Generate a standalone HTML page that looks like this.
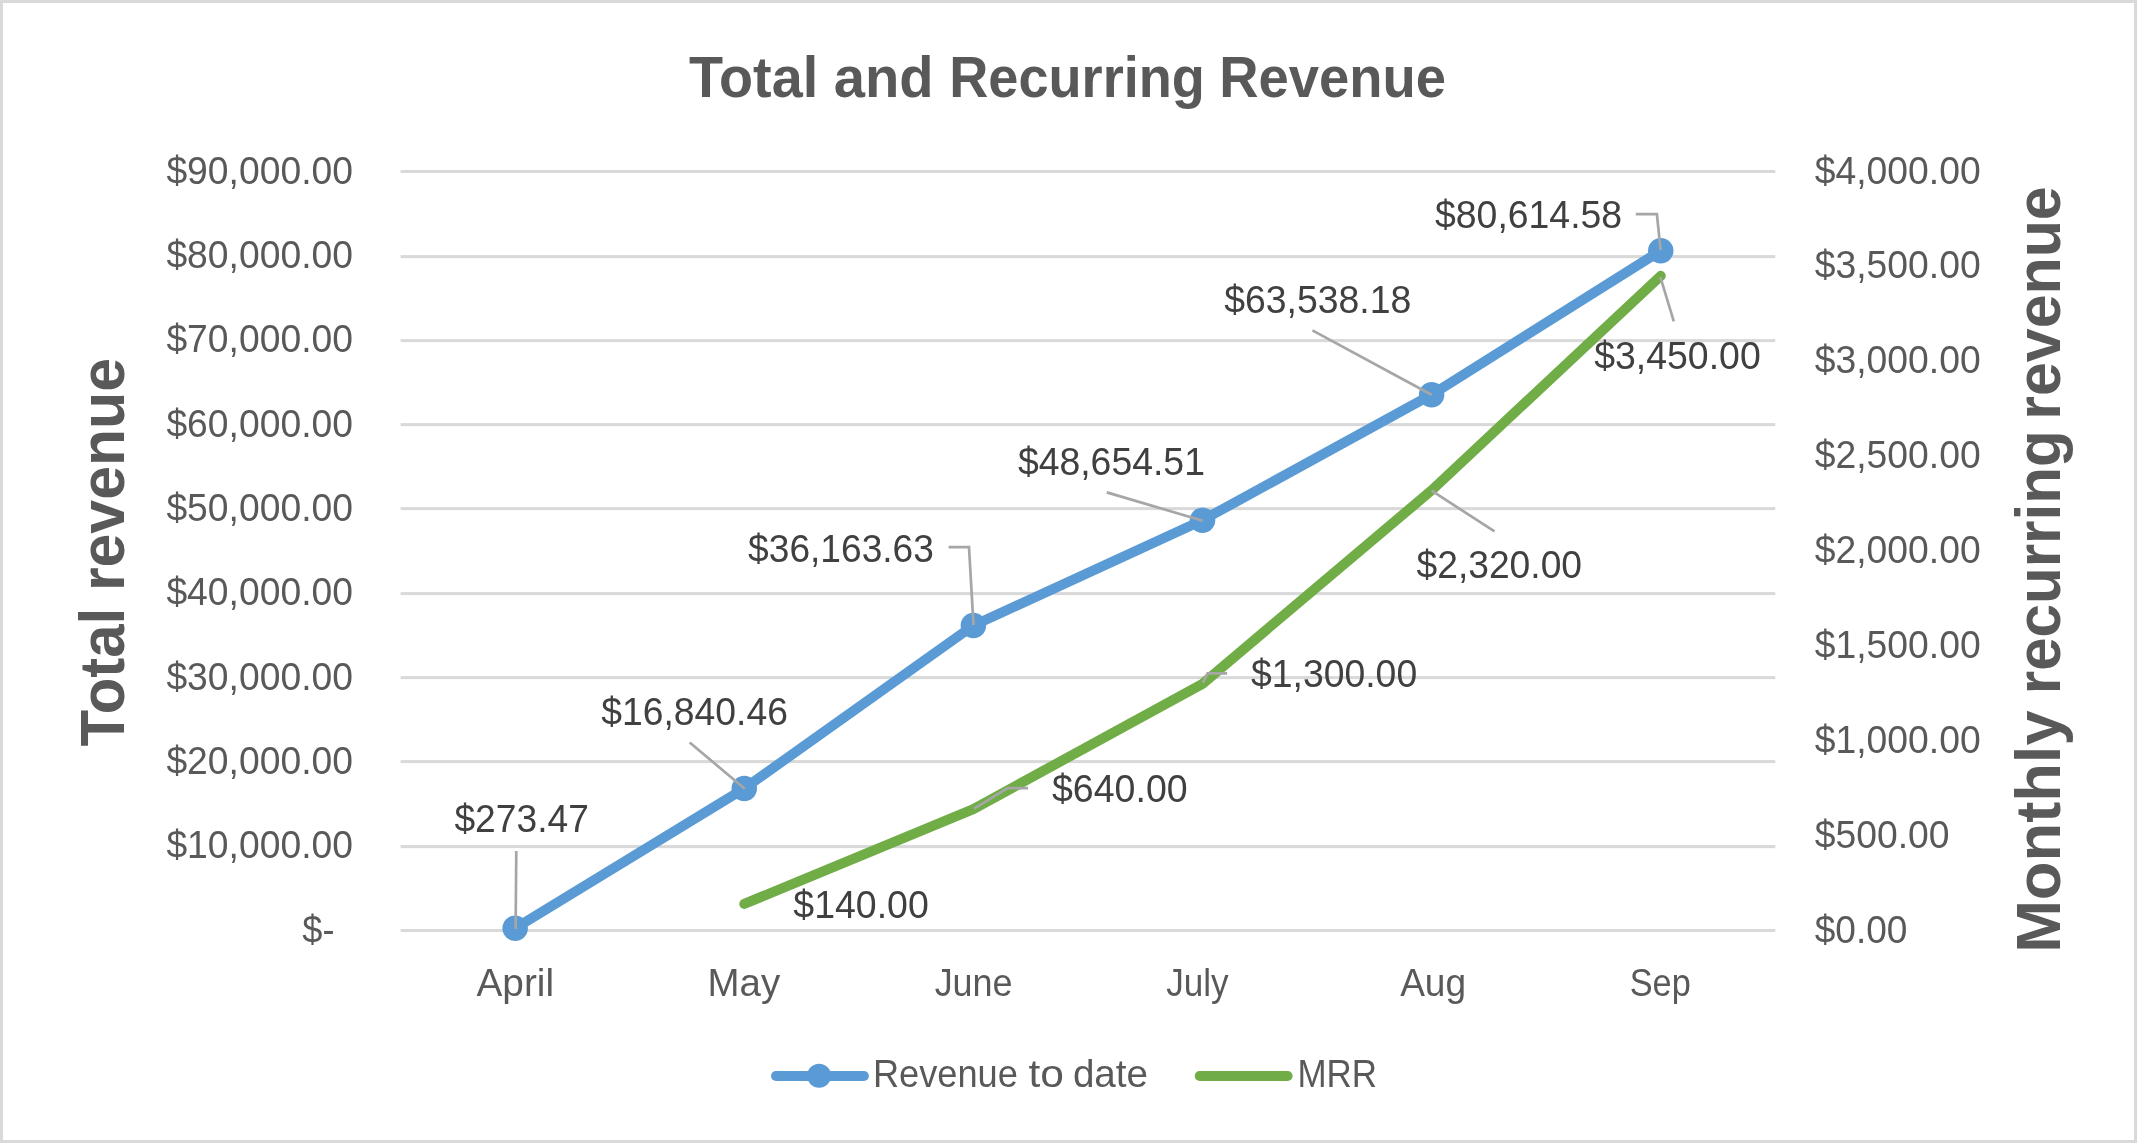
<!DOCTYPE html>
<html><head><meta charset="utf-8"><title>Total and Recurring Revenue</title>
<style>
html,body{margin:0;padding:0;background:#fff;}
body{width:2137px;height:1143px;overflow:hidden;position:relative;}
#frame{position:absolute;left:0;top:0;width:2137px;height:1143px;box-sizing:border-box;border:3px solid #D9D9D9;background:#fff;}
svg{position:absolute;left:0;top:0;will-change:transform;}
text{font-family:"Liberation Sans",sans-serif;}
</style></head><body>
<div id="frame"></div>
<svg width="2137" height="1143" viewBox="0 0 2137 1143">
<rect x="400.6" y="170" width="1374.7" height="3" fill="#D9D9D9"/>
<rect x="400.6" y="255.1" width="1374.7" height="3.05" fill="#D9D9D9"/>
<rect x="400.6" y="339.1" width="1374.7" height="3.05" fill="#D9D9D9"/>
<rect x="400.6" y="423.1" width="1374.7" height="3.05" fill="#D9D9D9"/>
<rect x="400.6" y="507.1" width="1374.7" height="3.05" fill="#D9D9D9"/>
<rect x="400.6" y="592.1" width="1374.7" height="3.05" fill="#D9D9D9"/>
<rect x="400.6" y="676.1" width="1374.7" height="3.05" fill="#D9D9D9"/>
<rect x="400.6" y="760.1" width="1374.7" height="3.05" fill="#D9D9D9"/>
<rect x="400.6" y="845.1" width="1374.7" height="3.05" fill="#D9D9D9"/>
<rect x="400.6" y="929" width="1374.7" height="3" fill="#D9D9D9"/>
<text x="689.09" y="96.60" font-size="57.4" font-weight="700" fill="#595959" textLength="129.13" lengthAdjust="spacingAndGlyphs">Total</text>
<text x="833.75" y="96.60" font-size="57.4" font-weight="700" fill="#595959" textLength="99.85" lengthAdjust="spacingAndGlyphs">and</text>
<text x="949.28" y="96.60" font-size="57.4" font-weight="700" fill="#595959" textLength="255.64" lengthAdjust="spacingAndGlyphs">Recurring</text>
<text x="1219.16" y="96.60" font-size="57.4" font-weight="700" fill="#595959" textLength="226.80" lengthAdjust="spacingAndGlyphs">Revenue</text>
<text x="166.40" y="183.60" font-size="38.1" fill="#595959" textLength="186.56" lengthAdjust="spacingAndGlyphs">$90,000.00</text>
<text x="166.40" y="267.93" font-size="38.1" fill="#595959" textLength="186.56" lengthAdjust="spacingAndGlyphs">$80,000.00</text>
<text x="166.40" y="352.27" font-size="38.1" fill="#595959" textLength="186.56" lengthAdjust="spacingAndGlyphs">$70,000.00</text>
<text x="166.40" y="436.60" font-size="38.1" fill="#595959" textLength="186.56" lengthAdjust="spacingAndGlyphs">$60,000.00</text>
<text x="166.40" y="520.93" font-size="38.1" fill="#595959" textLength="186.56" lengthAdjust="spacingAndGlyphs">$50,000.00</text>
<text x="166.40" y="605.27" font-size="38.1" fill="#595959" textLength="186.56" lengthAdjust="spacingAndGlyphs">$40,000.00</text>
<text x="166.40" y="689.60" font-size="38.1" fill="#595959" textLength="186.56" lengthAdjust="spacingAndGlyphs">$30,000.00</text>
<text x="166.40" y="773.93" font-size="38.1" fill="#595959" textLength="186.56" lengthAdjust="spacingAndGlyphs">$20,000.00</text>
<text x="166.40" y="858.27" font-size="38.1" fill="#595959" textLength="186.56" lengthAdjust="spacingAndGlyphs">$10,000.00</text>
<text x="302.31" y="942.80" font-size="38.1" fill="#595959" textLength="32.20" lengthAdjust="spacingAndGlyphs">$-</text>
<text x="1814.70" y="183.60" font-size="38.1" fill="#595959" textLength="165.96" lengthAdjust="spacingAndGlyphs">$4,000.00</text>
<text x="1814.70" y="278.48" font-size="38.1" fill="#595959" textLength="165.96" lengthAdjust="spacingAndGlyphs">$3,500.00</text>
<text x="1814.70" y="373.35" font-size="38.1" fill="#595959" textLength="165.96" lengthAdjust="spacingAndGlyphs">$3,000.00</text>
<text x="1814.70" y="468.23" font-size="38.1" fill="#595959" textLength="165.96" lengthAdjust="spacingAndGlyphs">$2,500.00</text>
<text x="1814.70" y="563.10" font-size="38.1" fill="#595959" textLength="165.96" lengthAdjust="spacingAndGlyphs">$2,000.00</text>
<text x="1814.70" y="657.98" font-size="38.1" fill="#595959" textLength="165.96" lengthAdjust="spacingAndGlyphs">$1,500.00</text>
<text x="1814.70" y="752.85" font-size="38.1" fill="#595959" textLength="165.96" lengthAdjust="spacingAndGlyphs">$1,000.00</text>
<text x="1814.70" y="847.73" font-size="38.1" fill="#595959" textLength="134.86" lengthAdjust="spacingAndGlyphs">$500.00</text>
<text x="1814.70" y="942.60" font-size="38.1" fill="#595959" textLength="92.75" lengthAdjust="spacingAndGlyphs">$0.00</text>
<text transform="translate(123.70,746.45) rotate(-90)" x="0" y="0" font-size="63.6" font-weight="700" fill="#595959" textLength="138.56" lengthAdjust="spacingAndGlyphs">Total</text>
<text transform="translate(123.70,591.11) rotate(-90)" x="0" y="0" font-size="63.6" font-weight="700" fill="#595959" textLength="233.19" lengthAdjust="spacingAndGlyphs">revenue</text>
<text transform="translate(2059.80,952.83) rotate(-90)" x="0" y="0" font-size="63.6" font-weight="700" fill="#595959" textLength="242.47" lengthAdjust="spacingAndGlyphs">Monthly</text>
<text transform="translate(2059.80,694.26) rotate(-90)" x="0" y="0" font-size="63.6" font-weight="700" fill="#595959" textLength="263.88" lengthAdjust="spacingAndGlyphs">recurring</text>
<text transform="translate(2059.80,419.71) rotate(-90)" x="0" y="0" font-size="63.6" font-weight="700" fill="#595959" textLength="233.39" lengthAdjust="spacingAndGlyphs">revenue</text>
<text x="476.52" y="995.90" font-size="38.1" fill="#595959" textLength="77.57" lengthAdjust="spacingAndGlyphs">April</text>
<text x="707.55" y="995.90" font-size="38.1" fill="#595959" textLength="72.63" lengthAdjust="spacingAndGlyphs">May</text>
<text x="934.64" y="995.90" font-size="38.1" fill="#595959" textLength="77.96" lengthAdjust="spacingAndGlyphs">June</text>
<text x="1166.25" y="995.90" font-size="38.1" fill="#595959" textLength="62.42" lengthAdjust="spacingAndGlyphs">July</text>
<text x="1400.13" y="995.90" font-size="38.1" fill="#595959" textLength="65.96" lengthAdjust="spacingAndGlyphs">Aug</text>
<text x="1629.74" y="995.90" font-size="38.1" fill="#595959" textLength="61.00" lengthAdjust="spacingAndGlyphs">Sep</text>
<polyline points="515.16,928.19 744.27,788.48 973.39,625.52 1202.51,520.18 1431.62,394.66 1660.74,250.65" fill="none" stroke="#5B9BD5" stroke-width="10" stroke-linecap="round" stroke-linejoin="round"/>
<polyline points="744.27,903.93 973.39,809.06 1202.51,683.83 1431.62,490.28 1660.74,275.86" fill="none" stroke="#70AD47" stroke-width="10" stroke-linecap="round" stroke-linejoin="round"/>
<circle cx="515.16" cy="928.19" r="12.75" fill="#5B9BD5"/>
<circle cx="744.27" cy="788.48" r="12.75" fill="#5B9BD5"/>
<circle cx="973.39" cy="625.52" r="12.75" fill="#5B9BD5"/>
<circle cx="1202.51" cy="520.18" r="12.75" fill="#5B9BD5"/>
<circle cx="1431.62" cy="394.66" r="12.75" fill="#5B9BD5"/>
<circle cx="1660.74" cy="250.65" r="12.75" fill="#5B9BD5"/>
<polyline points="516.3,851.1 515.6,929.0" fill="none" stroke="#A6A6A6" stroke-width="2.7" stroke-linejoin="miter"/>
<polyline points="689.7,742.5 744.7,788.7" fill="none" stroke="#A6A6A6" stroke-width="2.7" stroke-linejoin="miter"/>
<polyline points="948.6,547.2 969.0,547.2 973.5,625.0" fill="none" stroke="#A6A6A6" stroke-width="2.7" stroke-linejoin="miter"/>
<polyline points="1106.8,492.4 1202.7,520.7" fill="none" stroke="#A6A6A6" stroke-width="2.7" stroke-linejoin="miter"/>
<polyline points="1312.4,330.4 1431.5,394.7" fill="none" stroke="#A6A6A6" stroke-width="2.7" stroke-linejoin="miter"/>
<polyline points="1635.8,214.2 1656.9,214.2 1660.6,250.2" fill="none" stroke="#A6A6A6" stroke-width="2.7" stroke-linejoin="miter"/>
<polyline points="1660.4,277.1 1673.8,321.3" fill="none" stroke="#A6A6A6" stroke-width="2.7" stroke-linejoin="miter"/>
<polyline points="1431.6,490.7 1494.5,531.4" fill="none" stroke="#A6A6A6" stroke-width="2.7" stroke-linejoin="miter"/>
<polyline points="1202.8,682.8 1207.6,673.3 1227.1,673.3" fill="none" stroke="#A6A6A6" stroke-width="2.7" stroke-linejoin="miter"/>
<polyline points="974.1,808.6 1007.6,788.1 1028.1,788.1" fill="none" stroke="#A6A6A6" stroke-width="2.7" stroke-linejoin="miter"/>
<text x="454.40" y="832.40" font-size="38.1" fill="#404040" textLength="134.47" lengthAdjust="spacingAndGlyphs">$273.47</text>
<text x="601.20" y="724.90" font-size="38.1" fill="#404040" textLength="186.74" lengthAdjust="spacingAndGlyphs">$16,840.46</text>
<text x="748.10" y="561.50" font-size="38.1" fill="#404040" textLength="185.83" lengthAdjust="spacingAndGlyphs">$36,163.63</text>
<text x="1017.90" y="474.70" font-size="38.1" fill="#404040" textLength="187.03" lengthAdjust="spacingAndGlyphs">$48,654.51</text>
<text x="1224.20" y="312.70" font-size="38.1" fill="#404040" textLength="187.13" lengthAdjust="spacingAndGlyphs">$63,538.18</text>
<text x="1435.00" y="228.00" font-size="38.1" fill="#404040" textLength="187.13" lengthAdjust="spacingAndGlyphs">$80,614.58</text>
<text x="1594.20" y="368.50" font-size="38.1" fill="#404040" textLength="166.56" lengthAdjust="spacingAndGlyphs">$3,450.00</text>
<text x="1416.50" y="577.60" font-size="38.1" fill="#404040" textLength="165.55" lengthAdjust="spacingAndGlyphs">$2,320.00</text>
<text x="1251.00" y="686.90" font-size="38.1" fill="#404040" textLength="166.16" lengthAdjust="spacingAndGlyphs">$1,300.00</text>
<text x="1052.00" y="802.00" font-size="38.1" fill="#404040" textLength="135.67" lengthAdjust="spacingAndGlyphs">$640.00</text>
<text x="793.30" y="917.80" font-size="38.1" fill="#404040" textLength="135.47" lengthAdjust="spacingAndGlyphs">$140.00</text>
<line x1="776" y1="1076" x2="863.9" y2="1076" stroke="#5B9BD5" stroke-width="10" stroke-linecap="round"/>
<circle cx="819.1" cy="1075.8" r="12" fill="#5B9BD5"/>
<text x="872.93" y="1086.80" font-size="38.1" fill="#595959" textLength="144.98" lengthAdjust="spacingAndGlyphs">Revenue</text>
<text x="1028.56" y="1086.80" font-size="38.1" fill="#595959" textLength="35.43" lengthAdjust="spacingAndGlyphs">to</text>
<text x="1072.88" y="1086.80" font-size="38.1" fill="#595959" textLength="75.24" lengthAdjust="spacingAndGlyphs">date</text>
<line x1="1199.7" y1="1076" x2="1287.6" y2="1076" stroke="#70AD47" stroke-width="10" stroke-linecap="round"/>
<text x="1297.43" y="1086.90" font-size="38.1" fill="#595959" textLength="79.59" lengthAdjust="spacingAndGlyphs">MRR</text>
</svg>
</body></html>
